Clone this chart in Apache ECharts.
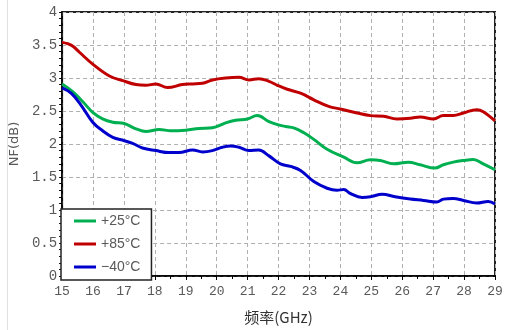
<!DOCTYPE html>
<html><head><meta charset="utf-8">
<script src="https://cdn.jsdelivr.net/npm/echarts@6/dist/echarts.min.js"></script>
<style>html,body{margin:0;padding:0;background:#fff}#c{width:508px;height:330px}</style>
</head><body><div id="c"></div>
<script>
const seriesNames = ['+25°C', '+85°C', '−40°C'];
const seriesColors = ['#00b050', '#c00000', '#0000cc'];
const xTicks = [15,16,17,18,19,20,21,22,23,24,25,26,27,28,29];
const yTicks = [0,0.5,1,1.5,2,2.5,3,3.5,4];

const freq25 = [15,15.35,15.67,15.99,16.31,16.64,17.01,17.39,17.71,18.14,18.52,19.0,19.43,19.86,20.29,20.61,20.99,21.31,21.69,22.0,22.23,22.49,22.82,23.14,23.57,24.11,24.54,24.97,25.29,25.72,26.2,26.58,27.06,27.33,27.65,27.98,28.3,28.62,29];
const nf25 = [2.91,2.79,2.64,2.48,2.38,2.33,2.31,2.23,2.19,2.22,2.2,2.21,2.235,2.245,2.32,2.36,2.38,2.43,2.34,2.29,2.265,2.245,2.17,2.07,1.92,1.8,1.715,1.76,1.75,1.7,1.725,1.685,1.635,1.685,1.725,1.75,1.765,1.7,1.61];

const freq85 = [15,15.18,15.35,15.56,15.99,16.53,16.96,17.39,17.71,18.03,18.41,18.89,19.22,19.54,19.86,20.29,20.72,21.04,21.36,21.69,21.96,22.28,22.71,23.14,23.62,24.0,24.54,24.97,25.4,25.83,26.26,26.58,27.01,27.33,27.65,27.98,28.41,28.62,29];
const nf85 = [3.54,3.52,3.48,3.39,3.21,3.03,2.96,2.9,2.89,2.91,2.855,2.9,2.91,2.92,2.97,3.0,3.01,2.97,2.99,2.95,2.89,2.83,2.77,2.67,2.57,2.53,2.47,2.43,2.42,2.38,2.39,2.41,2.38,2.43,2.43,2.47,2.52,2.49,2.35];

const freqM40 = [15,15.29,15.61,15.99,16.31,16.64,17.01,17.28,17.6,18.03,18.46,18.78,19.22,19.54,19.86,20.18,20.45,20.72,21.04,21.36,21.69,22.06,22.39,22.71,23.14,23.57,23.89,24.11,24.32,24.7,24.97,25.35,25.77,26.26,26.69,27.12,27.33,27.65,27.98,28.41,28.78,29];
const nfM40 = [2.85,2.77,2.59,2.33,2.2,2.1,2.05,2.01,1.94,1.9,1.87,1.87,1.91,1.88,1.9,1.95,1.97,1.95,1.9,1.91,1.82,1.7,1.66,1.6,1.43,1.33,1.3,1.31,1.25,1.19,1.2,1.24,1.2,1.165,1.145,1.12,1.165,1.175,1.145,1.105,1.13,1.09];

const pairs = (xs, ys) => xs.map((x, i) => [x, ys[i]]);
const allData = [pairs(freq25, nf25), pairs(freq85, nf85), pairs(freqM40, nfM40)];

const chart = echarts.init(document.getElementById('c'), null, {renderer: 'canvas'});
const tickFont = 'Liberation Mono';
chart.setOption({
  animation: false,
  backgroundColor: '#fff',
  grid: {left: 61, right: 13, top: 12, bottom: 49, show: true, borderColor: '#222', borderWidth: 2, backgroundColor: 'transparent'},
  legend: {
    orient: 'vertical', left: 61, top: 209,
    data: seriesNames,
    icon: 'rect', itemWidth: 22, itemHeight: 3, itemGap: 9,
    padding: [5, 11, 6, 13],
    backgroundColor: '#fff', borderColor: '#222', borderWidth: 1.5,
    textStyle: {color: '#595959', fontSize: 14, fontFamily: 'Liberation Sans'}
  },
  xAxis: {
    type: 'value', min: xTicks[0], max: xTicks[xTicks.length-1], interval: 1,
    name: '频率(GHz)', nameLocation: 'middle', nameGap: 34,
    nameTextStyle: {color: '#333', fontSize: 15, fontFamily: 'Noto Sans CJK SC'},
    axisLine: {lineStyle: {color: '#000', width: 1.5}},
    axisTick: {show: true, inside: false, length: 4, lineStyle: {color: '#000'}},
    minorTick: {show: true, splitNumber: 2, length: 3, lineStyle: {color: '#000'}},
    axisLabel: {color: '#595959', fontSize: 13, fontFamily: tickFont, margin: 9},
    splitLine: {show: true, lineStyle: {color: '#b0b0b0', type: [4, 3], width: 1}}
  },
  yAxis: {
    type: 'value', min: yTicks[0], max: yTicks[yTicks.length-1], interval: 0.5,
    name: 'NF(dB)', nameLocation: 'middle', nameGap: 36,
    nameTextStyle: {color: '#595959', fontSize: 13, fontFamily: 'DejaVu Sans'},
    axisLine: {show: true, lineStyle: {color: '#000', width: 1.5}},
    axisTick: {show: true, inside: false, length: 3, lineStyle: {color: '#000'}},
    minorTick: {show: true, splitNumber: 5, length: 3, lineStyle: {color: '#000'}},
    axisLabel: {color: '#595959', fontSize: 14, fontFamily: tickFont, margin: 5},
    splitLine: {show: true, lineStyle: {color: '#b0b0b0', type: [4, 3], width: 1}}
  },
  graphic: [{type: 'line', shape: {x1: 7.5, y1: 0, x2: 7.5, y2: 330}, style: {stroke: '#e0e0e0', lineWidth: 1}}],
  series: seriesNames.map((n, i) => ({
    name: n, type: 'line', data: allData[i], smooth: 0.4, showSymbol: false,
    lineStyle: {color: seriesColors[i], width: 3}, itemStyle: {color: seriesColors[i]}
  }))
});
</script></body></html>
